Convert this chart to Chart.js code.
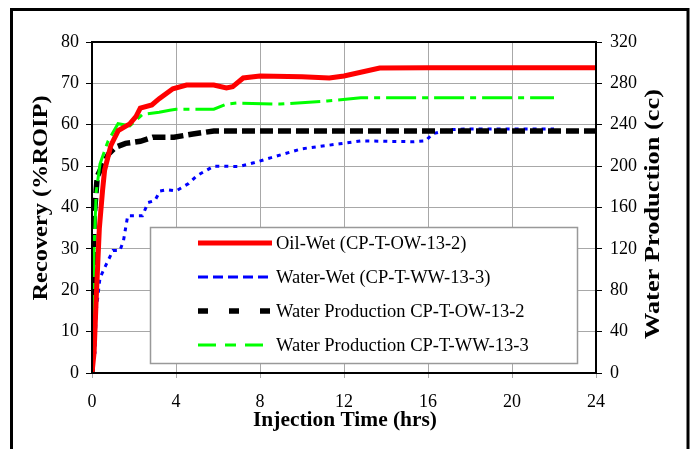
<!DOCTYPE html>
<html>
<head>
<meta charset="utf-8">
<script src="https://cdn.jsdelivr.net/npm/chart.js@4.4.0/dist/chart.umd.min.js"></script>
<style>
  html, body { margin: 0; padding: 0; background: #fff; }
  #wrap { width: 696px; height: 449px; position: relative; }
</style>
</head>
<body>
<div id="wrap"><canvas id="c" width="696" height="449"></canvas></div>
<script>
// Recovery / water production vs injection time.
const xTicks = [0, 4, 8, 12, 16, 20, 24];
const yTicksLeft = [0, 10, 20, 30, 40, 50, 60, 70, 80];
const yTicksRight = [0, 40, 80, 120, 160, 200, 240, 280, 320];

// Oil-Wet recovery (%ROIP)
const oilT   = [0, 0.1, 0.2, 0.35, 0.5, 0.6, 0.9, 1.25, 1.8, 2.1, 2.3, 2.85, 3.2, 3.85, 4.5, 5.8, 6.4, 6.7, 7.2, 8, 10, 11.3, 12, 13.7, 16, 20, 24];
const oilRec = [0, 5, 18, 35, 44, 49, 55, 58.6, 60.2, 62, 64, 64.8, 66.3, 68.7, 69.6, 69.6, 68.9, 69.2, 71.3, 71.8, 71.6, 71.3, 71.8, 73.7, 73.8, 73.8, 73.8];

// Water-Wet recovery (%ROIP)
const wwT   = [0, 0.05, 0.14, 0.2, 0.38, 0.7, 1.0, 1.33, 1.5, 1.7, 2.4, 2.67, 3.0, 3.24, 3.6, 4.0, 4.6, 5.0, 5.8, 7.0, 7.7, 8.5, 10, 11.8, 12.8, 15.3, 15.9, 16.2, 17, 18, 22];
const wwRec = [0, 3.9, 4.8, 15, 23, 26.5, 29.6, 29.6, 32, 38, 38, 41.2, 41.7, 44, 44.3, 44, 45.8, 47.7, 50, 49.9, 50.8, 52, 54.2, 55.4, 56.1, 55.9, 56.1, 57.8, 58.8, 59, 59];

// Water production (cc) CP-T-OW-13-2
const owWaterT  = [0, 0.05, 0.1, 0.25, 0.6, 0.8, 1.1, 1.6, 2.3, 2.9, 3.9, 4.8, 5.8, 24];
const owWaterCc = [0, 80, 150, 190, 205, 212, 218, 222, 224, 228, 228, 231, 234, 234];

// Water production (cc) CP-T-WW-13-3
const wwWaterT  = [0, 0.05, 0.1, 0.2, 0.38, 0.76, 1.24, 1.8, 2.4, 3.2, 3.7, 4.0, 5.8, 6.4, 6.9, 8.95, 11.2, 12.8, 22];
const wwWaterCc = [0, 60, 120, 175, 202, 224, 241, 239, 250, 252, 254, 255, 255, 260, 261, 260, 263, 266, 266];

const labels = [
  'Oil-Wet (CP-T-OW-13-2)',
  'Water-Wet (CP-T-WW-13-3)',
  'Water Production CP-T-OW-13-2',
  'Water Production CP-T-WW-13-3'
];

const pts = (xs, ys) => xs.map((x, i) => ({ x, y: ys[i] }));
const SERIF = "'Liberation Serif', 'Times New Roman', serif";
const GRID = '#a8a8a8';

// title drawn stretched to a given length along its direction
function title(ctx, text, x, y, rot, len) {
  ctx.save();
  ctx.font = 'bold 20px ' + SERIF;
  ctx.textAlign = 'center';
  ctx.textBaseline = 'middle';
  const w = ctx.measureText(text).width;
  ctx.translate(x, y);
  ctx.rotate(rot);
  ctx.scale(len / w, 1);
  ctx.fillText(text, 0, 0);
  ctx.restore();
}

const frame = {
  id: 'frame',
  beforeDraw(chart) {
    const ctx = chart.ctx;
    ctx.save();
    ctx.strokeStyle = '#000';
    ctx.lineWidth = 3;
    ctx.strokeRect(11.5, 9.5, 676.5, 460);
    ctx.restore();
  },
  afterDatasetsDraw(chart) {
    const ctx = chart.ctx, a = chart.chartArea;
    ctx.save();
    // plot box
    ctx.strokeStyle = '#000';
    ctx.lineWidth = 2;
    ctx.strokeRect(a.left, a.top, a.right - a.left, a.bottom - a.top);

    // legend
    const bx = 150.5, by = 227.5, bw = 427, bh = 136;
    ctx.fillStyle = '#fff';
    ctx.fillRect(bx, by, bw, bh);
    ctx.strokeStyle = '#999';
    ctx.lineWidth = 1.5;
    ctx.strokeRect(bx, by, bw, bh);
    ctx.font = '18.5px ' + SERIF;
    ctx.textBaseline = 'middle';
    ctx.textAlign = 'left';
    chart.data.datasets.forEach((ds, i) => {
      const y = 243 + i * 34;
      ctx.beginPath();
      ctx.setLineDash(ds.legendDash || ds.borderDash || []);
      ctx.lineWidth = ds.borderWidth;
      ctx.strokeStyle = ds.borderColor;
      ctx.lineCap = 'butt';
      ctx.moveTo(198, y);
      ctx.lineTo(272, y);
      ctx.stroke();
      ctx.setLineDash([]);
      ctx.fillStyle = '#000';
      ctx.fillText(ds.label, 276, y + 1);
    });

    // axis titles
    ctx.fillStyle = '#000';
    title(ctx, 'Injection Time (hrs)', 345, 421, 0, 184);
    title(ctx, 'Recovery (%ROIP)', 42, 198, -Math.PI / 2, 205);
    title(ctx, 'Water Production (cc)', 654, 214, -Math.PI / 2, 250);
    ctx.restore();
  }
};

new Chart(document.getElementById('c'), {
  type: 'line',
  data: {
    datasets: [
      { label: labels[0], data: pts(oilT, oilRec), yAxisID: 'y',
        borderColor: '#ff0000', borderWidth: 5, order: 1 },
      { label: labels[1], data: pts(wwT, wwRec), yAxisID: 'y',
        borderColor: '#0000ff', borderWidth: 3, borderDash: [4, 5], legendDash: [10, 5], order: 4 },
      { label: labels[2], data: pts(owWaterT, owWaterCc), yAxisID: 'y2',
        borderColor: '#000000', borderWidth: 5.5, borderDash: [13, 5], legendDash: [10, 21], order: 3 },
      { label: labels[3], data: pts(wwWaterT, wwWaterCc), yAxisID: 'y2',
        borderColor: '#00ff00', borderWidth: 3, borderDash: [30, 6, 6, 6], legendDash: [18, 9, 11, 9], order: 2 }
    ]
  },
  options: {
    responsive: false,
    animation: false,
    events: [],
    layout: { padding: { top: 42, left: 0, right: 0, bottom: 0 } },
    elements: { point: { radius: 0 }, line: { tension: 0 } },
    plugins: { legend: { display: false }, tooltip: { enabled: false } },
    scales: {
      x: {
        type: 'linear', min: 0, max: 24,
        afterFit: s => { s.height = 76; },
        afterBuildTicks: s => { s.ticks = xTicks.map(v => ({ value: v })); },
        grid: { color: GRID, lineWidth: 1, tickLength: 5, tickColor: GRID },
        border: { color: '#000', width: 2 },
        ticks: { padding: 13, color: '#000', font: { family: SERIF, size: 18 } }
      },
      y: {
        position: 'left', min: 0, max: 80,
        afterFit: s => { s.width = 92; },
        afterBuildTicks: s => { s.ticks = yTicksLeft.map(v => ({ value: v })); },
        grid: { color: GRID, lineWidth: 1, tickLength: 6, tickColor: '#000' },
        border: { color: '#000', width: 2 },
        ticks: { padding: 7, color: '#000', font: { family: SERIF, size: 18 } }
      },
      y2: {
        position: 'right', min: 0, max: 320,
        afterFit: s => { s.width = 100; },
        afterBuildTicks: s => { s.ticks = yTicksRight.map(v => ({ value: v })); },
        grid: { drawOnChartArea: false, tickLength: 6, tickColor: '#000' },
        border: { color: '#000', width: 2 },
        ticks: { padding: 8, color: '#000', font: { family: SERIF, size: 18 } }
      }
    }
  },
  plugins: [frame]
});
</script>
</body>
</html>
